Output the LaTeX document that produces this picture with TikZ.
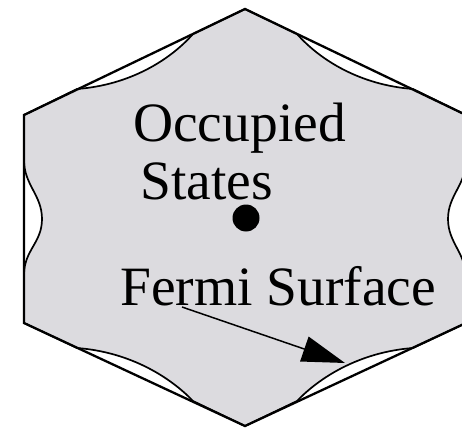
\documentclass[tikz,border=0pt]{standalone}
\usepackage{fontspec}
\setmainfont{Liberation Serif}
\usetikzlibrary{arrows.meta}
\definecolor{occgrey}{RGB}{220,219,223}
\tikzset{
  hexline/.style={draw=black,line width=2.3pt,line join=miter},
  fermiline/.style={draw=black,fill=occgrey,line width=1.7pt,line join=round},
  label/.style={inner sep=0pt,anchor=base west,font=\fontsize{55.5}{60}\selectfont},
  pointer/.style={draw=black,line width=1.5pt,-{Triangle[length=43pt,width=26pt]}}
}
\begin{document}
\begin{tikzpicture}[x=1pt,y=-1pt]
\useasboundingbox (0,0) rectangle (462,430);
% Fermi surface (occupied states)
\path[fermiline] (193,34) -- (245,9) -- (297,34)
  .. controls (320,60) and (360,85) .. (413,89)
  -- (466,115) -- (466,160)
  .. controls (466,185) and (448,195) .. (448,219)
  .. controls (448,243) and (466,253) .. (466,278)
  -- (466,323) -- (413,348)
  .. controls (360,352) and (320,377) .. (297,401)
  -- (245,426) -- (193,401)
  .. controls (170,377) and (130,352) .. (77,348)
  -- (24,323) -- (24,275)
  .. controls (24,250) and (42,243) .. (42,219)
  .. controls (42,195) and (24,185) .. (24,160)
  -- (24,115) -- (77,89)
  .. controls (130,85) and (170,60) .. (193,34) -- cycle;
% Brillouin zone hexagon
\draw[hexline] (245,9) -- (466,115) -- (466,323) -- (245,426) -- (24,323) -- (24,115) -- cycle;
% centre point
\fill (246,218) circle[radius=13.5];
\node (occ) at (133,142) [label] {Occupied};
\node (sta) at (140,200) [label] {States};
\node (fs) at (120,305) [label] {Fermi Surface};
\coordinate (fsstart) at (182,307);
\coordinate (fstip) at (345,363);
\draw[pointer] (fsstart) -- (fstip);
\end{tikzpicture}
\end{document}
